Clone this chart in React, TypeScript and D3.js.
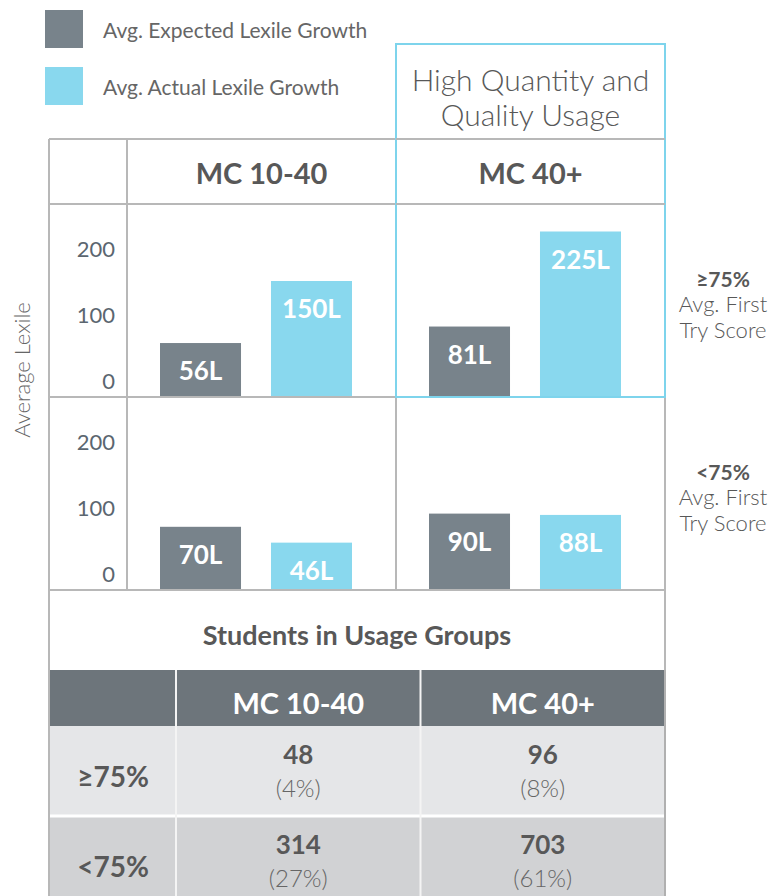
import * as d3 from 'd3';

const usageGroups = ['MC 10-40', 'MC 40+'];
const seriesNames = ['Avg. Expected Lexile Growth', 'Avg. Actual Lexile Growth'];
const scoreBands = ['≥75%', '<75%'];
const yTicks = [0, 100, 200];

// rows = score bands, columns = usage groups
const expectedGrowth = [
  [56, 81],
  [70, 90],
];
const actualGrowth = [
  [150, 225],
  [46, 88],
];

const studentCounts = [
  [48, 96],
  [314, 703],
];
const studentPercents = [
  [4, 8],
  [27, 61],
];

const highlightTitle = ['High Quantity and', 'Quality Usage'];
const tableTitle = 'Students in Usage Groups';
const yTitle = 'Average Lexile';
const bandSubLabel = ['Avg. First', 'Try Score'];

const W = 784;
const H = 896;
const FONT = 'Lato, "Open Sans", sans-serif';
const colors = ['#78838b', '#89d8ee'];
const gridColor = '#b8b8b8';
const cyan = '#7ed4ec';
const textGray = '#585858';

const left = 49;
const labelColRight = 127;
const right = 665;
const gridTop = 139;
const headerBottom = 204;
const panelH = 193;
const zeroOffset = 17;

export default function App() {
  const colX = d3.scaleBand<string>().domain(usageGroups).range([labelColRight, right]);
  const barX = d3
    .scaleBand<string>()
    .domain(seriesNames)
    .range([33, 225])
    .paddingInner(0.27);

  const panels = scoreBands.map((band, i) => {
    const top = headerBottom + i * panelH;
    const bottom = top + panelH;
    const y = d3
      .scaleLinear()
      .domain([0, 200])
      .range([bottom - zeroOffset, bottom - zeroOffset - 132]);
    return { band, i, top, bottom, y };
  });

  const gridBottom = headerBottom + 2 * panelH;
  const tableTitleBottom = gridBottom + 80;
  const headerRowBottom = tableTitleBottom + 56;
  const row1Bottom = headerRowBottom + 90;
  const tableCol = d3.scaleBand<string>().domain(usageGroups).range([176, right]);
  const rowTops = [headerRowBottom, row1Bottom];
  const rowFills = ['#e5e6e8', '#d1d2d4'];

  const hl = colX('MC 40+')!;

  return (
    <svg
      width={W}
      height={H}
      style={{ position: 'absolute', left: 0, top: 0, background: '#fff' }}
      fontFamily={FONT}
    >
      {/* legend */}
      {seriesNames.map((s, i) => (
        <g key={s} transform={`translate(45,${10 + i * 57})`}>
          <rect width={38} height={38} fill={colors[i]} />
          <text x={58} y={19} dominantBaseline="central" fontSize={21} fill="#666">
            {s}
          </text>
        </g>
      ))}

      {/* highlight title */}
      {highlightTitle.map((t, i) => (
        <text
          key={t}
          x={hl + colX.bandwidth() / 2}
          y={79 + i * 35}
          textAnchor="middle"
          dominantBaseline="central"
          fontSize={30}
          fontWeight={300}
          fill={textGray}
        >
          {t}
        </text>
      ))}

      {/* column headers */}
      {usageGroups.map((g) => (
        <text
          key={g}
          x={colX(g)! + colX.bandwidth() / 2}
          y={(gridTop + headerBottom) / 2 + 1}
          textAnchor="middle"
          dominantBaseline="central"
          fontSize={29}
          fontWeight={700}
          fill={textGray}
        >
          {g}
        </text>
      ))}

      {/* bar panels */}
      {panels.map((p) => (
        <g key={p.band}>
          {yTicks.map((t) => (
            <text
              key={t}
              x={115}
              y={p.y(t)}
              textAnchor="end"
              dominantBaseline="central"
              fontSize={22}
              fill="#5b6670"
            >
              {t}
            </text>
          ))}
          {usageGroups.map((g, gi) =>
            [expectedGrowth[p.i][gi], actualGrowth[p.i][gi]].map((v, si) => {
              const x = colX(g)! + barX(seriesNames[si])!;
              const yTop = p.y(v);
              return (
                <g key={g + si}>
                  <rect
                    x={x}
                    y={yTop}
                    width={barX.bandwidth()}
                    height={p.bottom - yTop}
                    fill={colors[si]}
                  />
                  <text
                    x={x + barX.bandwidth() / 2}
                    y={yTop + 27}
                    textAnchor="middle"
                    dominantBaseline="central"
                    fontSize={26}
                    fontWeight={700}
                    fill="#fff"
                  >
                    {v}L
                  </text>
                </g>
              );
            })
          )}
          <text
            x={723}
            y={(p.top + p.bottom) / 2 - 22}
            textAnchor="middle"
            dominantBaseline="central"
            fontSize={21}
            fontWeight={700}
            fill={textGray}
          >
            {p.band}
          </text>
          {bandSubLabel.map((t, k) => (
            <text
              key={t}
              x={723}
              y={(p.top + p.bottom) / 2 + 3 + k * 26}
              textAnchor="middle"
              dominantBaseline="central"
              fontSize={22}
              fontWeight={300}
              fill={textGray}
            >
              {t}
            </text>
          ))}
        </g>
      ))}

      {/* y axis title */}
      <text
        transform={`translate(21,${(headerBottom + gridBottom) / 2 - 27}) rotate(-90)`}
        textAnchor="middle"
        dominantBaseline="central"
        fontSize={22}
        fontWeight={300}
        fill="#666"
      >
        {yTitle}
      </text>

      {/* table */}
      {rowTops.map((rt, ri) => (
        <rect key={ri} x={left} y={rt} width={right - left} height={90} fill={rowFills[ri]} />
      ))}
      <rect
        x={left}
        y={tableTitleBottom}
        width={right - left}
        height={headerRowBottom - tableTitleBottom}
        fill="#6d757b"
      />
      <line x1={left} x2={right} y1={row1Bottom} y2={row1Bottom} stroke="#fff" strokeWidth={3} />
      {usageGroups.map((g) => (
        <line
          key={g}
          x1={tableCol(g)}
          x2={tableCol(g)}
          y1={tableTitleBottom}
          y2={H}
          stroke="#f4f4f4"
          strokeWidth={2}
        />
      ))}
      <text
        x={(left + right) / 2}
        y={(gridBottom + tableTitleBottom) / 2 + 4}
        textAnchor="middle"
        dominantBaseline="central"
        fontSize={27}
        fontWeight={700}
        fill={textGray}
      >
        {tableTitle}
      </text>
      {usageGroups.map((g) => (
        <text
          key={g}
          x={tableCol(g)! + tableCol.bandwidth() / 2}
          y={(tableTitleBottom + headerRowBottom) / 2 + 4}
          textAnchor="middle"
          dominantBaseline="central"
          fontSize={29}
          fontWeight={700}
          fill="#fff"
        >
          {g}
        </text>
      ))}
      {scoreBands.map((b, ri) => (
        <g key={b}>
          <text
            x={113}
            y={rowTops[ri] + 50}
            textAnchor="middle"
            dominantBaseline="central"
            fontSize={28}
            fontWeight={700}
            fill={textGray}
          >
            {b}
          </text>
          {usageGroups.map((g, gi) => (
            <g key={g}>
              <text
                x={tableCol(g)! + tableCol.bandwidth() / 2}
                y={rowTops[ri] + 28}
                textAnchor="middle"
                dominantBaseline="central"
                fontSize={26}
                fontWeight={700}
                fill={textGray}
              >
                {studentCounts[ri][gi]}
              </text>
              <text
                x={tableCol(g)! + tableCol.bandwidth() / 2}
                y={rowTops[ri] + 61}
                textAnchor="middle"
                dominantBaseline="central"
                fontSize={24}
                fontWeight={300}
                fill="#666"
              >
                ({studentPercents[ri][gi]}%)
              </text>
            </g>
          ))}
        </g>
      ))}

      {/* grid lines */}
      {[gridTop, headerBottom, headerBottom + panelH, gridBottom].map((y) => (
        <line key={y} x1={left} x2={right} y1={y} y2={y} stroke={gridColor} strokeWidth={2} />
      ))}
      {[left, labelColRight, hl, right].map((x) => (
        <line key={x} x1={x} x2={x} y1={gridTop} y2={gridBottom} stroke={gridColor} strokeWidth={2} />
      ))}
      <line x1={left} x2={left} y1={gridBottom} y2={H} stroke={gridColor} strokeWidth={2} />
      <line x1={right} x2={right} y1={gridBottom} y2={tableTitleBottom} stroke={gridColor} strokeWidth={2} />
      <line x1={right} x2={right} y1={tableTitleBottom} y2={H} stroke="#b0b0b0" strokeWidth={2} />

      {/* highlight box */}
      <rect
        x={hl}
        y={44}
        width={colX.bandwidth()}
        height={headerBottom + panelH - 44}
        fill="none"
        stroke={cyan}
        strokeWidth={2}
      />
      {[gridTop, headerBottom].map((y) => (
        <line key={y} x1={hl} x2={right} y1={y} y2={y} stroke={gridColor} strokeWidth={2} />
      ))}
    </svg>
  );
}
